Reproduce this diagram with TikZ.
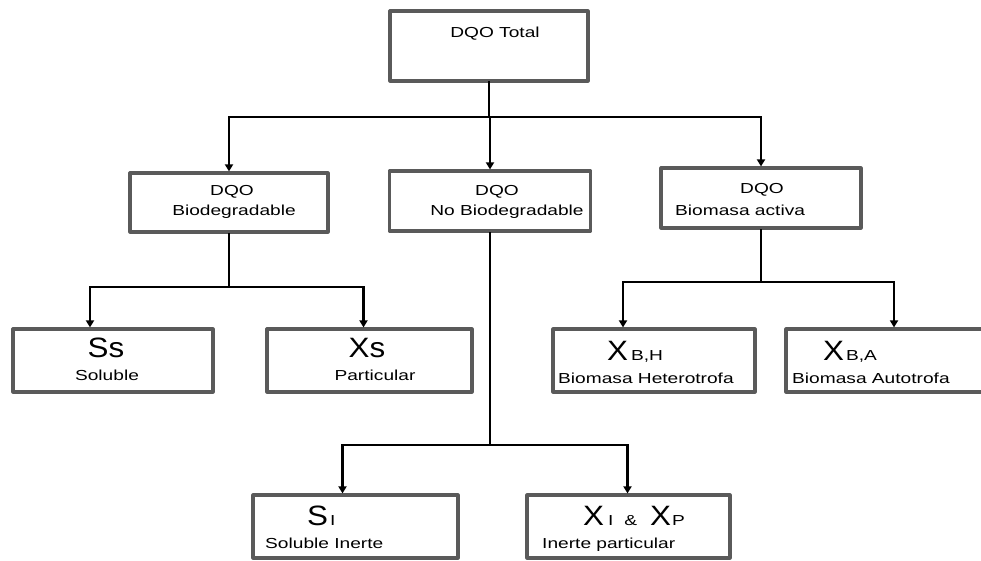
\documentclass[tikz,border=0pt]{standalone}
\usepackage{fontspec}
\setmainfont{Liberation Sans}
\newfontfamily\dqlabfont[FakeStretch=1.32]{Liberation Sans}
\newfontfamily\dqsymfont[FakeStretch=1.12]{Liberation Sans}
\newcommand\dqlabel{\dqlabfont\fontsize{14.5}{17}\selectfont}
\newcommand\dqsym{\dqsymfont\fontsize{28}{32}\selectfont}
\usetikzlibrary{arrows.meta,calc}
\definecolor{boxgray}{HTML}{5A5A5A}

\tikzset{
  box/.style={draw=boxgray, line width=3.2pt, line join=round, fill=white, inner sep=0pt},
  wire/.style={draw=black, line width=2.2pt, line cap=rect},
  arr/.style={draw=black, line width=2.2pt, -{Triangle[width=8pt,length=7pt]}},
  lab/.style={inner sep=0pt, font=\dqlabel, anchor=base},
  labl/.style={lab, anchor=base west},
  sym/.style={inner sep=0pt, font=\dqsym, anchor=base},
  syml/.style={sym, anchor=base west},
}

\begin{document}
\begin{tikzpicture}[x=1pt, y=-1pt]
\useasboundingbox (0,0) rectangle (981,561);

% boxes
\node[box, minimum width=198pt, minimum height=70pt] (total) at (489,46) {};
\node[box, minimum width=198pt, minimum height=59pt] (bio)   at (229,202.5) {};
\node[box, minimum width=201pt, minimum height=60pt] (nobio) at (490,201) {};
\node[box, minimum width=200pt, minimum height=60pt] (biom)  at (761,198) {};
\node[box, minimum width=200pt, minimum height=63pt] (ss)    at (113,360.5) {};
\node[box, minimum width=205pt, minimum height=63pt] (xs)    at (369.5,360.5) {};
\node[box, minimum width=202pt, minimum height=63pt] (xbh)   at (654,360.5) {};
\node[box, minimum width=204pt, minimum height=63pt] (xba)   at (888,360.5) {};
\node[box, minimum width=205pt, minimum height=63pt] (si)    at (355.5,526.5) {};
\node[box, minimum width=203pt, minimum height=63pt] (xip)   at (628.5,526.5) {};

% bus lines and entry points
\coordinate (bus0) at (489,117);
\coordinate (bus1) at (229,287);
\coordinate (bus2) at (490,445);
\coordinate (bus3) at (761,282);
\coordinate (ssin)  at ($(ss.north)+(-23,0)$);
\coordinate (xsin)  at ($(xs.north)+(-6,0)$);
\coordinate (xbhin) at ($(xbh.north)+(-31,0)$);
\coordinate (xbain) at ($(xba.north)+(6,0)$);
\coordinate (siin)  at ($(si.north)+(-13,0)$);
\coordinate (xipin) at ($(xip.north)+(-1,0)$);

% level 1
\draw[wire] (total.south) -- (bus0);
\draw[wire] (bio.north |- bus0) -- (biom.north |- bus0);
\draw[arr] (bio.north |- bus0) -- (bio.north);
\draw[arr] (nobio.north |- bus0) -- (nobio.north);
\draw[arr] (biom.north |- bus0) -- (biom.north);

% biodegradable branch
\draw[wire] (bio.south) -- (bus1);
\draw[wire] (ssin |- bus1) -- (xsin |- bus1);
\draw[arr] (ssin |- bus1) -- (ssin);
\draw[arr] (xsin |- bus1) -- (xsin);

% active biomass branch
\draw[wire] (biom.south) -- (bus3);
\draw[wire] (xbhin |- bus3) -- (xbain |- bus3);
\draw[arr] (xbhin |- bus3) -- (xbhin);
\draw[arr] (xbain |- bus3) -- (xbain);

% non-biodegradable branch
\draw[wire] (nobio.south) -- (bus2);
\draw[wire] (siin |- bus2) -- (xipin |- bus2);
\draw[arr] (siin |- bus2) -- (siin);
\draw[arr] (xipin |- bus2) -- (xipin);

% texts
\node[lab] (totalA) at (495,38) {DQO Total};
\node[lab] (bioA) at (232,196) {DQO};
\node[lab] (bioB) at (234,215) {Biodegradable};
\node[lab] (nobA) at (497,196) {DQO};
\node[lab] (nobB) at (507,215) {No Biodegradable};
\node[lab] (biomA) at (762,194) {DQO};
\node[labl] (biomB) at (675,215) {Biomasa activa};

\node[sym] (ssA) at (106,357) {Ss};
\node[lab] (ssB) at (107,380) {Soluble};
\node[sym] (xsA) at (367,357) {Xs};
\node[lab] (xsB) at (375,380) {Particular};

\node[syml] (xbhA) at (607,360) {X\hspace{3pt}{\dqlabel B,H}};
\node[labl] (xbhB) at (558,383) {Biomasa Heterotrofa};
\node[syml] (xbaA) at (823,360) {X\hspace{2pt}{\dqlabel B,A}};
\node[labl] (xbaB) at (792,383) {Biomasa Autotrofa};

\node[syml] (siA) at (307,525) {S\hspace{2pt}{\dqlabel I}};
\node[labl] (siB) at (265,548) {Soluble Inerte};
\node[syml] (xipA) at (583,525) {X\hspace{4pt}{\dqlabel I}\hspace{11pt}{\dqlabel\&}\hspace{13pt}X\hspace{1pt}{\dqlabel P}};
\node[labl] (xipB) at (542,548) {Inerte particular};
\end{tikzpicture}
\end{document}
